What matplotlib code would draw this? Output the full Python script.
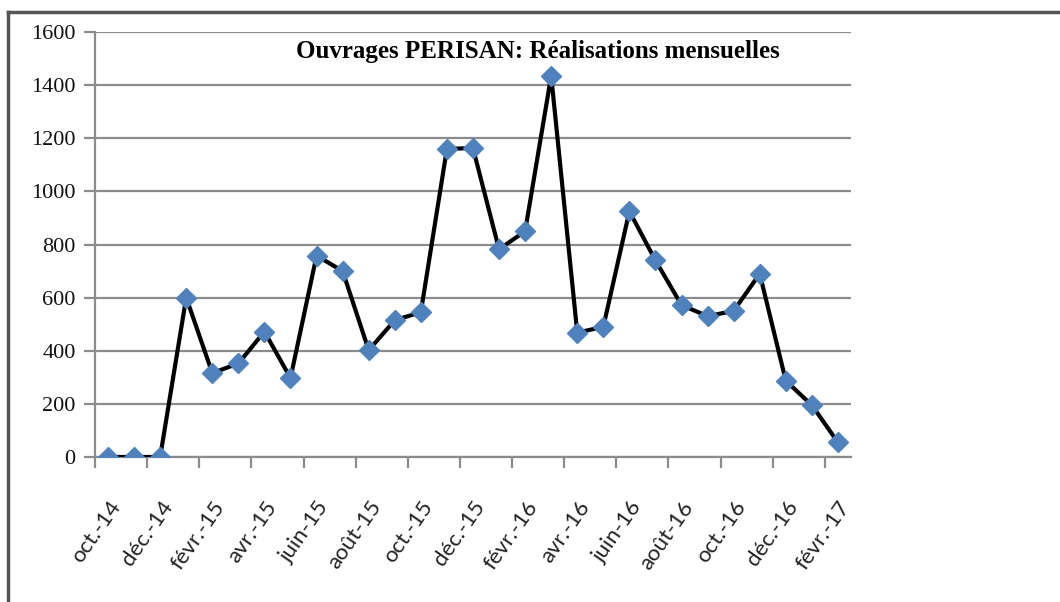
import matplotlib
matplotlib.use('Agg')
import matplotlib.pyplot as plt
from matplotlib.lines import Line2D

months = ['oct.-14', 'nov.-14', 'déc.-14', 'janv.-15', 'févr.-15', 'mars-15', 'avr.-15', 'mai-15',
          'juin-15', 'juil.-15', 'août-15', 'sept.-15', 'oct.-15', 'nov.-15', 'déc.-15', 'janv.-16',
          'févr.-16', 'mars-16', 'avr.-16', 'mai-16', 'juin-16', 'juil.-16', 'août-16', 'sept.-16',
          'oct.-16', 'nov.-16', 'déc.-16', 'janv.-17', 'févr.-17']
values = [0, 0, 0, 600, 316, 352, 472, 297,
          758, 700, 402, 515, 545, 1160, 1163, 782,
          850, 1435, 468, 490, 925, 740, 572, 530,
          550, 690, 287, 195, 55]
yticks = [0, 200, 400, 600, 800, 1000, 1200, 1400, 1600]
title = 'Ouvrages PERISAN: Réalisations mensuelles'

fig = plt.figure(figsize=(10.6, 6.02), dpi=100)
ax = fig.add_axes([0.0896, 0.2409, 0.8028 - 0.0896, 0.9468 - 0.2409])

x = list(range(len(values)))
ax.plot(x, values, color='black', lw=3, marker='D', ms=10, mfc='#4F81BD', mec='#4F81BD', zorder=3)

ax.set_xlim(-0.5, len(values) - 0.5)
ax.set_ylim(0, 1600)
ax.set_yticks(yticks)
ax.set_yticklabels([str(v) for v in yticks], family='Liberation Serif', fontsize=16, color='#111111')
ax.yaxis.grid(True, color='#8c8c8c', lw=1.6)
ax.set_axisbelow(True)
ax.tick_params(axis='y', length=8, width=1.6, color='#8c8c8c', pad=6)

# labels every other month, tick marks between them
ax.set_xticks(x[::2])
ax.set_xticklabels(months[::2], rotation=55, ha='right', rotation_mode='anchor',
                   family='Lato', fontsize=16, color='#222222')
ax.tick_params(axis='x', which='major', length=0, pad=29)
ax.set_xticks([v - 0.5 for v in x[::2]], minor=True)
ax.tick_params(axis='x', which='minor', length=8, width=1.6, color='#8c8c8c')

for s in ['top', 'right']:
    ax.spines[s].set_visible(False)
ax.spines['left'].set_color('#8c8c8c')
ax.spines['left'].set_linewidth(1.6)
ax.spines['bottom'].set_color('#8c8c8c')
ax.spines['bottom'].set_linewidth(1.6)

ax.text(0.586, 0.955, title, transform=ax.transAxes, ha='center', va='center',
        family='Liberation Serif', fontweight='bold', fontsize=18)

# outer chart frame (left and top edges)
fig.add_artist(Line2D([8 / 1060, 8 / 1060], [1 - 12 / 602, 0], color='#555555', lw=2.5))
fig.add_artist(Line2D([8 / 1060, 1], [1 - 12 / 602, 1 - 12 / 602], color='#555555', lw=2.5))

fig.savefig('out.png', dpi=100)
print('chart generated')
